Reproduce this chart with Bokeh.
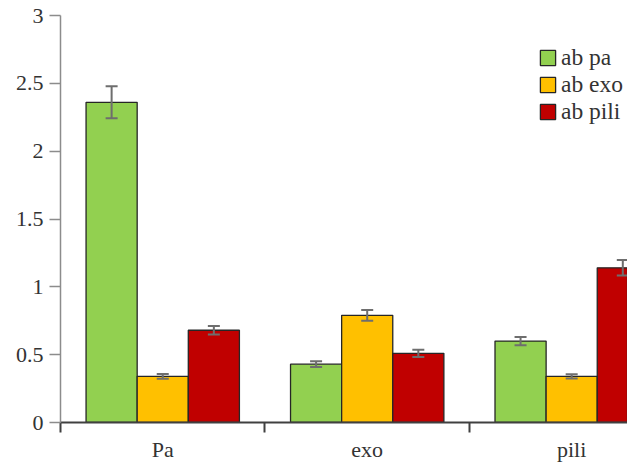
from bokeh.plotting import figure
from bokeh.models import (Range1d, FixedTicker, ColumnDataSource, Whisker, TeeHead,
                          Legend, LegendItem)
from bokeh.embed import file_html
from bokeh.resources import INLINE

categories = ["Pa", "exo", "pili"]
series = ["ab pa", "ab exo", "ab pili"]
ab_pa = [2.36, 0.43, 0.60]
ab_exo = [0.34, 0.79, 0.34]
ab_pili = [0.68, 0.51, 1.14]
err_pa = [0.118, 0.021, 0.031]
err_exo = [0.017, 0.040, 0.016]
err_pili = [0.032, 0.027, 0.057]
y_ticks = [0, 0.5, 1, 1.5, 2, 2.5, 3]
y_tick_labels = ["0", "0.5", "1", "1.5", "2", "2.5", "3"]
colors = ["#92D050", "#FFC000", "#C00000"]

FONT = "Liberation Serif, Times New Roman, serif"
TXT = "#333333"

p = figure(width=627, height=466, output_backend="svg", toolbar_location=None,
           x_range=Range1d(0, 2.773), y_range=Range1d(0, 3),
           min_border_left=60, min_border_right=0, min_border_top=15,
           min_border_bottom=44)
p.grid.visible = False
p.outline_line_color = None
p.background_fill_color = "white"

# y axis
p.yaxis.ticker = FixedTicker(ticks=y_ticks)
p.yaxis.major_label_overrides = dict(zip(y_ticks, y_tick_labels))
p.yaxis.axis_line_color = "#8c8c8c"
p.yaxis.axis_line_width = 1.5
p.yaxis.major_tick_line_color = "#8c8c8c"
p.yaxis.major_tick_line_width = 1.5
p.yaxis.major_tick_out = 11
p.yaxis.major_tick_in = 0
p.yaxis.minor_tick_line_color = None
p.yaxis.major_label_standoff = 6
p.yaxis.major_label_text_font = FONT
p.yaxis.major_label_text_font_size = "22px"
p.yaxis.major_label_text_color = TXT

# x axis: labels at group centres, ticks at group boundaries
centers = [i + 0.5 for i in range(len(categories))]
bounds = [i for i in range(len(categories) + 1)]
p.xaxis.ticker = FixedTicker(ticks=centers, minor_ticks=bounds)
p.xaxis.major_label_overrides = dict(zip(centers, categories))
p.xaxis.major_tick_line_color = None
p.xaxis.major_tick_out = 10
p.xaxis.major_tick_in = 0
p.xaxis.minor_tick_line_color = "#404040"
p.xaxis.minor_tick_line_width = 2
p.xaxis.minor_tick_out = 10
p.xaxis.minor_tick_in = 0
p.xaxis.axis_line_color = "#404040"
p.xaxis.axis_line_width = 2
p.xaxis.major_label_standoff = 4
p.xaxis.major_label_text_font = FONT
p.xaxis.major_label_text_font_size = "22px"
p.xaxis.major_label_text_color = TXT

values = [ab_pa, ab_exo, ab_pili]
errors = [err_pa, err_exo, err_pili]
width = 0.25
items = []
for j, (vals, errs) in enumerate(zip(values, errors)):
    xs = [c + (j - 1) * width for c in centers]
    src = ColumnDataSource(dict(x=xs, top=vals,
                                upper=[v + e for v, e in zip(vals, errs)],
                                lower=[v - e for v, e in zip(vals, errs)]))
    r = p.vbar(x="x", top="top", bottom=0, width=width, source=src,
               fill_color=colors[j], line_color="#262626", line_width=1.3)
    w = Whisker(base="x", upper="upper", lower="lower", source=src,
                level="overlay",
                line_color="#6e6e6e", line_width=2,
                upper_head=TeeHead(size=12, line_color="#6e6e6e", line_width=2),
                lower_head=TeeHead(size=12, line_color="#6e6e6e", line_width=2))
    p.add_layout(w)
    items.append(LegendItem(label=series[j], renderers=[r]))

legend = Legend(items=items, location=(478, 297))
legend.border_line_color = None
legend.background_fill_alpha = 0
legend.padding = 0
legend.margin = 0
legend.spacing = 0
legend.glyph_width = 19
legend.glyph_height = 19
legend.label_height = 20
legend.label_standoff = 4
legend.label_text_font = FONT
legend.label_text_font_size = "23.5px"
legend.label_text_color = TXT
p.add_layout(legend)

open("out.html", "w").write(file_html(p, INLINE))
